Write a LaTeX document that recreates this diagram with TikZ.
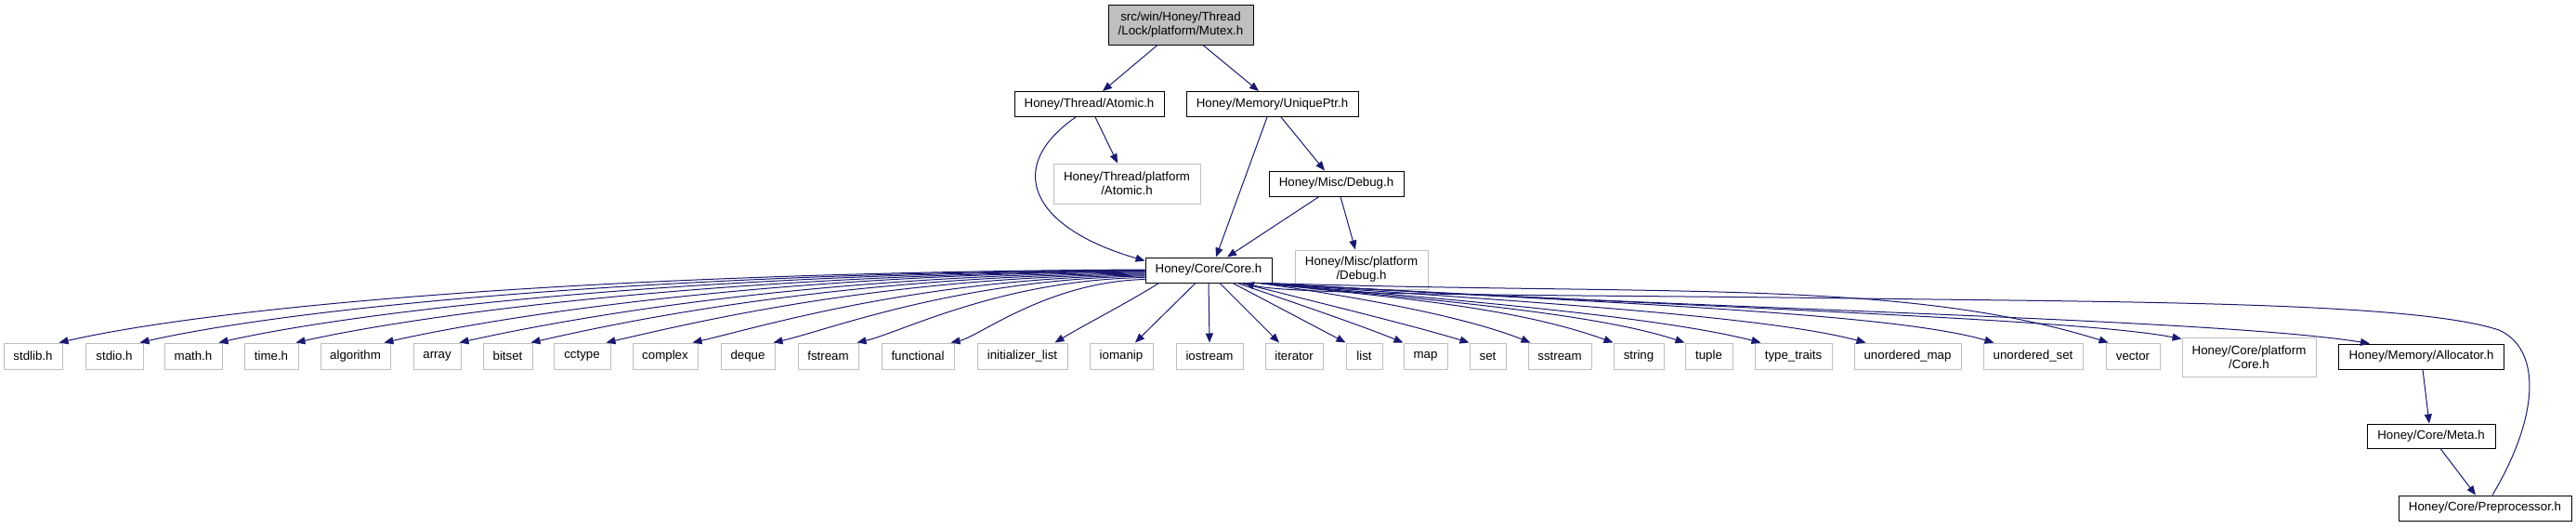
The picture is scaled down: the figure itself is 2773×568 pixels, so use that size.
\documentclass[tikz,border=0pt]{standalone}
\usepackage{fontspec}
\setmainfont{Liberation Sans}
\usetikzlibrary{arrows.meta}
\definecolor{edgeblue}{HTML}{191970}
\definecolor{extgray}{HTML}{BFBFBF}
\begin{document}
\begin{tikzpicture}[x=1pt,y=-1pt]
\tikzstyle{box}=[draw,rectangle,line width=1pt,inner sep=1pt,align=center,font=\fontsize{13.3}{15}\selectfont,minimum height=27]
\tikzstyle{file}=[box,fill=white]
\tikzstyle{ext}=[box,draw=extgray,fill=white]
\tikzstyle{arrow}=[draw,edgeblue,line width=1pt,-{Triangle[length=10pt,width=8pt]}]
\useasboundingbox (0,0) rectangle (2773,568);
% headers
\node[box,fill=extgray,minimum width=156,minimum height=43] (mutex) at (1271,26.5) {src/win/Honey/Thread\\/Lock/platform/Mutex.h};
\node[file,minimum width=161] (atomic) at (1172.5,112) {Honey/Thread/Atomic.h};
\node[file,minimum width=185] (uptr) at (1369.5,112) {Honey/Memory/UniquePtr.h};
\node[ext,minimum width=158,minimum height=43] (atomicplat) at (1213,197.5) {Honey/Thread/platform\\/Atomic.h};
\node[file,minimum width=145] (debug) at (1438.5,197.5) {Honey/Misc/Debug.h};
\node[file,minimum width=136] (core) at (1301,290.5) {Honey/Core/Core.h};
\node[ext,minimum width=143,minimum height=42] (debugplat) at (1465.5,290) {Honey/Misc/platform\\/Debug.h};
\node[ext,minimum width=144,minimum height=42] (coreplat) at (2421,384) {Honey/Core/platform\\/Core.h};
\node[file,minimum width=178] (allocator) at (2606.5,383.5) {Honey/Memory/Allocator.h};
\node[file,minimum width=138,minimum height=26] (meta) at (2617,469) {Honey/Core/Meta.h};
\node[file,minimum width=186] (preproc) at (2675,546.5) {Honey/Core/Preprocessor.h};
% std headers
\foreach \n/\x/\w/\t in {stdlib/35.5/63/stdlib.h,stdio/123/62/stdio.h,math/208/62/math.h,
  time/292/58/time.h,algorithm/382.5/75/algorithm,array/470.5/51/array,bitset/546.5/53/bitset,
  cctype/626.5/61/cctype,complex/716/70/complex,deque/805/58/deque,fstream/891.5/65/fstream,
  functional/988/78/functional,initlist/1100.5/97/initializer\_list,iomanip/1207/68/iomanip,
  iostream/1302/72/iostream,iterator/1393/62/iterator,list/1468.5/39/list,map/1534.5/47/map,
  set/1601.5/39/set,sstream/1679/68/sstream,string/1764/54/string,tuple/1839.5/51/tuple,
  typetraits/1930.5/83/type\_traits,umap/2053.5/115/unordered\_map,
  uset/2188.5/107/unordered\_set,vector/2296/58/vector}
  \node[ext,minimum width=\w,minimum height=28] (\n) at (\x,383) {\t};
% top edges
\path[arrow]([xshift=-25pt]mutex.south)--([xshift=14.5pt]atomic.north);
\path[arrow]([xshift=24pt]mutex.south)--([xshift=-14.5pt]uptr.north);
\path[arrow]([xshift=6.5pt]atomic.south)--([xshift=-10pt]atomicplat.north);
\path[arrow]([xshift=-14.5pt]atomic.south)..controls(1080,180)and(1110,245)..([yshift=-4pt]core.north west);
\path[arrow]([xshift=-5.5pt]uptr.south)--([xshift=8pt]core.north);
\path[arrow]([xshift=9.5pt]uptr.south)--([xshift=-12.5pt]debug.north);
\path[arrow]([xshift=-18.5pt]debug.south)--([xshift=20pt]core.north);
\path[arrow]([xshift=4.5pt]debug.south)--([xshift=-6.5pt]debugplat.north);
% core to the left
\path[arrow]([yshift=0.5pt]core.west)..controls(648,293)and(238,329)..([xshift=-4pt]stdlib.north east);
\path[arrow](core.west)..controls(691,293.5)and(312,332)..([xshift=-4pt]stdio.north east);
\path[arrow]([yshift=-0.5pt]core.west)..controls(734,294)and(385,335)..([xshift=-4pt]math.north east);
\path[arrow]([yshift=-1pt]core.west)..controls(775,295)and(455,338)..([xshift=-3pt]time.north east);
\path[arrow]([yshift=-1.5pt]core.west)..controls(823,295)and(536,341)..([xshift=-7pt]algorithm.north east);
\path[arrow]([yshift=-2.5pt]core.west)..controls(863,296)and(605,344)..([xshift=-2pt]array.north east);
\path[arrow]([yshift=-3.5pt]core.west)..controls(902,297)and(670,346)..([xshift=-2pt]bitset.north east);
\path[arrow]([yshift=-4.5pt]core.west)..controls(942,298)and(739,349)..([xshift=-5pt]cctype.north east);
\path[arrow]([yshift=-5.5pt]core.west)..controls(989,299)and(818,352)..([xshift=-6pt]complex.north east);
\path[arrow]([yshift=-6.5pt]core.west)..controls(1032,300)and(892,355)..([xshift=-2pt]deque.north east);
\path[arrow]([yshift=-8pt]core.west)..controls(1077,301)and(969,358)..([xshift=-2pt]fstream.north east);
\path[arrow]([yshift=-10pt]core.west)..controls(1128,303)and(1054,362)..([xshift=-4pt]functional.north east);
\path[arrow]([xshift=15pt]core.south west)..controls(1215,325)and(1170,348)..([xshift=-14pt]initlist.north east);
\path[arrow]([xshift=-14pt]core.south)--([xshift=15pt]iomanip.north);
\path[arrow](core.south)--(iostream.north);
% core to the right
\path[arrow]([xshift=12pt]core.south)--([xshift=-16pt]iterator.north);
\path[arrow]([xshift=26pt]core.south)--(list.north west);
\path[arrow]([xshift=31pt]core.south)..controls(1400,328)and(1465,350)..(map.north west);
\path[arrow]([xshift=35pt]core.south)..controls(1430,328)and(1520,350)..(set.north west);
\path[arrow]([xshift=-14pt]core.south east)..controls(1450,318)and(1570,338)..([xshift=3pt]sstream.north west);
\path[arrow]([xshift=-13pt]core.south east)..controls(1500,320)and(1630,330)..(string.north west);
\path[arrow]([xshift=-13pt]core.south east)..controls(1560,324)and(1720,338)..(tuple.north west);
\path[arrow]([xshift=-12pt]core.south east)..controls(1600,325)and(1790,342)..([xshift=7pt]typetraits.north west);
\path[arrow]([xshift=-12pt]core.south east)..controls(1650,325)and(1900,340)..([xshift=13pt]umap.north west);
\path[arrow]([xshift=-11pt]core.south east)..controls(1700,325)and(2030,335)..([xshift=12pt]uset.north west);
\path[arrow]([xshift=-9pt]core.south east)..controls(1800,318)and(2050,300)..([xshift=3pt]vector.north west);
\path[arrow]([xshift=-8pt]core.south east)..controls(1800,330)and(2230,342)..([yshift=-2pt]coreplat.north west);
\path[arrow]([xshift=-7pt]core.south east)..controls(1800,332)and(2380,342)..([xshift=34pt]allocator.north west);
% allocator chain
\path[arrow]([xshift=1.5pt]allocator.south)--([xshift=-2pt]meta.north);
\path[arrow]([xshift=10pt]meta.south)--([xshift=-10pt]preproc.north);
\path[arrow]([xshift=8pt]preproc.north)..controls(2735,445)and(2735,375)..(2690,355)
  ..controls(2600,325)and(2300,325)..(2000,321)..controls(1700,317)and(1390,318)..([xshift=39pt]core.south);
\end{tikzpicture}
\end{document}
